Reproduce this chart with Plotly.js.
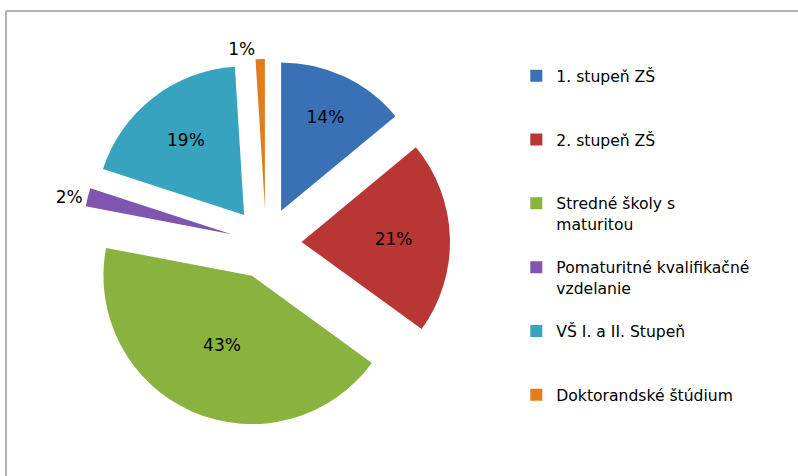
<!DOCTYPE html>
<html>
<head>
<meta charset="utf-8">
<script src="https://cdn.plot.ly/plotly-3.0.1.min.js"></script>
<style>
html,body{margin:0;padding:0;background:#fff;}
#chart{width:798px;height:476px;}
</style>
</head>
<body>
<div id="chart"></div>
<script>
// Data
const categories = ["1. stupeň ZŠ", "2. stupeň ZŠ", "Stredné školy s maturitou",
  "Pomaturitné kvalifikačné vzdelanie", "VŠ I. a II. Stupeň", "Doktorandské štúdium"];
const legendLines = [["1. stupeň ZŠ"], ["2. stupeň ZŠ"], ["Stredné školy s", "maturitou"],
  ["Pomaturitné kvalifikačné", "vzdelanie"], ["VŠ I. a II. Stupeň"], ["Doktorandské štúdium"]];
const shares = [14, 21, 43, 2, 19, 1];
const colors = ["#3A70B5", "#B83634", "#8AB23F", "#7F55B0", "#38A3BE", "#E07E1E"];

// legend labels padded to three lines so every entry takes the same height
const labels = legendLines.map(function(lines){
  const out = lines.slice();
  while (out.length < 3) out.push("&nbsp;");
  return out.join("<br>");
});
const texts = shares.map(function(v){ return v + "%"; });
const positions = shares.map(function(v){ return v < 5 ? "outside" : "inside"; });

const fontFam = "DejaVu Sans, Open Sans, sans-serif";

const trace = {
  type: "pie",
  labels: labels,
  values: shares,
  text: texts,
  textinfo: "text",
  textposition: positions,
  sort: false,
  direction: "clockwise",
  rotation: 0,
  pull: 0.24,
  marker: {colors: colors, line: {color: "rgba(255,255,255,0)", width: 0}},
  insidetextfont: {family: fontFam, size: 17, color: "#000"},
  outsidetextfont: {family: fontFam, size: 17, color: "#000"},
  insidetextorientation: "horizontal",
  domain: {x: [0.0952, 0.5714], y: [0.1029, 0.876]},
  hoverinfo: "label+percent"
};

const layout = {
  width: 798, height: 476,
  margin: {l: 0, r: 0, t: 0, b: 0},
  paper_bgcolor: "#fff",
  showlegend: true,
  legend: {
    x: 0.647, y: 0.876, xanchor: "left", yanchor: "top",
    valign: "top",
    font: {family: fontFam, size: 15.6, color: "#000"},
    itemclick: false
  },
  shapes: [
    {type: "line", xref: "paper", yref: "paper", x0: 0.0075, x1: 1, y0: 0.977, y1: 0.977,
     line: {color: "#9a9a9a", width: 1.5}},
    {type: "line", xref: "paper", yref: "paper", x0: 0.0075, x1: 0.0075, y0: 0, y1: 0.977,
     line: {color: "#9a9a9a", width: 1.5}}
  ]
};

Plotly.newPlot("chart", [trace], layout, {displayModeBar: false, staticPlot: true});
</script>
</body>
</html>
